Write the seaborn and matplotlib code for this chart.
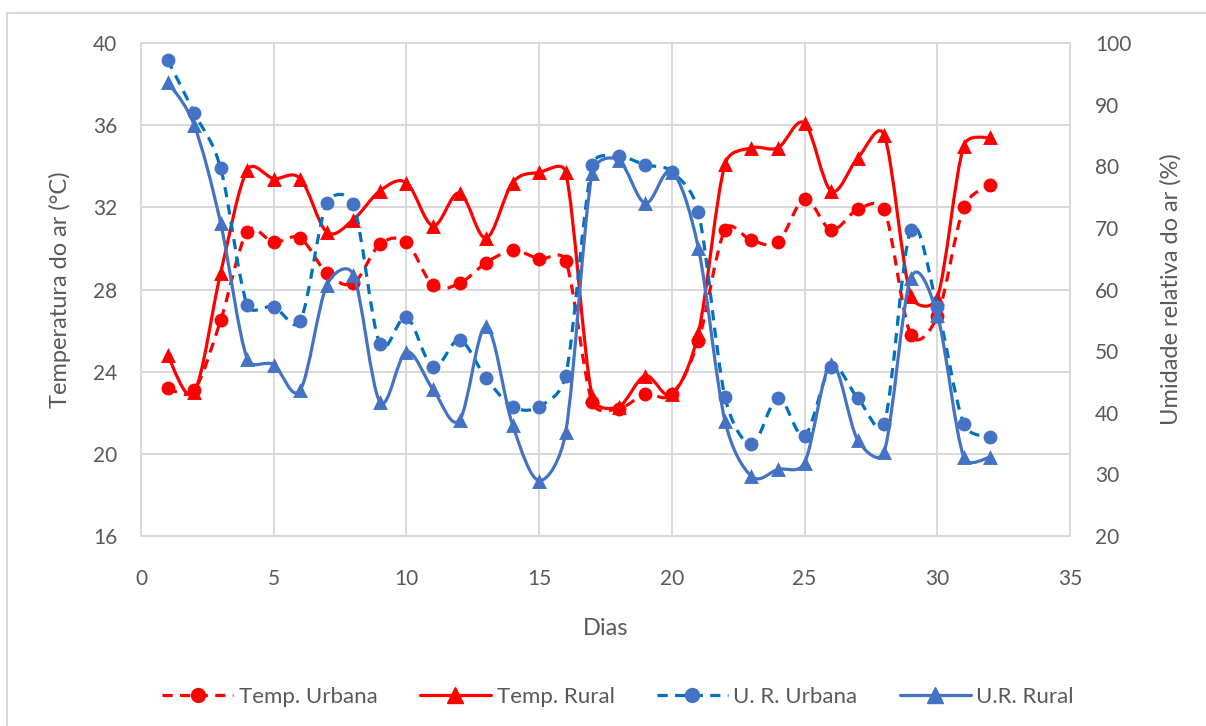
import numpy as np
import matplotlib
matplotlib.use("Agg")
import matplotlib.pyplot as plt
from matplotlib.path import Path
from matplotlib.patches import PathPatch
from matplotlib.lines import Line2D
import seaborn as sns

# Daily series
dias = list(range(1, 33))
temp_urbana = [23.2, 23.1, 26.5, 30.8, 30.3, 30.5, 28.8, 28.3, 30.2, 30.3, 28.2, 28.3,
               29.3, 29.9, 29.5, 29.4, 22.5, 22.2, 22.9, 22.9, 25.5, 30.9, 30.4, 30.3,
               32.4, 30.9, 31.9, 31.9, 25.8, 26.7, 32.0, 33.1]
temp_rural = [24.8, 23.0, 28.8, 33.8, 33.4, 33.4, 30.8, 31.4, 32.8, 33.2, 31.1, 32.7,
              30.5, 33.2, 33.7, 33.7, 22.8, 22.3, 23.8, 22.9, 25.9, 34.1, 34.9, 34.9,
              36.1, 32.8, 34.4, 35.5, 27.7, 27.6, 35.0, 35.4]
ur_urbana = [97.3, 88.7, 79.7, 57.5, 57.2, 54.9, 74.0, 73.9, 51.2, 55.5, 47.4, 51.8,
             45.6, 41.0, 41.0, 46.0, 80.2, 81.6, 80.2, 79.1, 72.6, 42.6, 34.9, 42.4,
             36.3, 47.4, 42.4, 38.2, 69.6, 57.2, 38.2, 36.0]
ur_rural = [93.7, 86.7, 70.8, 48.8, 47.8, 43.7, 60.7, 62.4, 41.8, 49.9, 43.8, 38.8,
            54.0, 38.0, 29.0, 36.8, 78.9, 81.0, 74.0, 79.1, 66.7, 38.7, 29.7, 30.8,
            31.9, 47.9, 35.6, 33.7, 61.8, 55.9, 32.8, 32.8]

labels = ["Temp. Urbana", "Temp. Rural", "U. R. Urbana", "U.R. Rural"]
x_ticks = [0, 5, 10, 15, 20, 25, 30, 35]
t_ticks = [16, 20, 24, 28, 32, 36, 40]
u_ticks = [20, 30, 40, 50, 60, 70, 80, 90, 100]

RED = "#FF0000"
BLUE = "#4472C4"
BLUE_DASH = "#0070C0"
GRID = "#D9D9D9"
TXT = "#595959"

sns.set_theme(style="white")
plt.rcParams["font.family"] = ["Lato", "DejaVu Sans"]

FIG_W, FIG_H = 1206, 726
AX_L, AX_R, AX_T, AX_B = 141, 1070, 43, 536


def smooth_path(x, y, ylim, xlim=(0, 35), t=1 / 6):
    """Smoothed cubic Bezier path through the points.

    Control points follow the neighbouring chord (Catmull-Rom style), limited
    to half of the segment length in screen space to avoid overshooting.
    """
    sx = (AX_R - AX_L) / (xlim[1] - xlim[0])
    sy = (AX_B - AX_T) / (ylim[1] - ylim[0])
    pts = np.column_stack([np.asarray(x, float) * sx, np.asarray(y, float) * sy])
    n = len(pts)
    verts = [pts[0]]
    codes = [Path.MOVETO]
    for i in range(n - 1):
        p0 = pts[i - 1] if i > 0 else pts[i]
        p1, p2 = pts[i], pts[i + 1]
        p3 = pts[i + 2] if i + 2 < n else pts[i + 1]
        seg = np.hypot(*(p2 - p1))
        v1 = (p2 - p0) * t
        v2 = (p3 - p1) * t
        for v in (v1, v2):
            L = np.hypot(*v)
            if L > seg / 2 and L > 0:
                v *= (seg / 2) / L
        verts += [p1 + v1, p2 - v2, p2]
        codes += [Path.CURVE4] * 3
    verts = np.array(verts)
    verts[:, 0] /= sx
    verts[:, 1] /= sy
    return Path(verts, codes)


DASH = (0, (3.2, 2.3))
LW = 2.3

fig = plt.figure(figsize=(FIG_W / 100, FIG_H / 100), dpi=100)
ax = fig.add_axes([AX_L / FIG_W, 1 - AX_B / FIG_H, (AX_R - AX_L) / FIG_W,
                   (AX_B - AX_T) / FIG_H])
ax2 = ax.twinx()

T_LIM = (16, 40)
U_LIM = (20, 100)

# Temperature on the primary axis
ax.add_patch(PathPatch(smooth_path(dias, temp_urbana, T_LIM), fill=False, edgecolor=RED,
                       lw=LW, linestyle=DASH, zorder=3))
sns.scatterplot(x=dias, y=temp_urbana, ax=ax, marker="o", s=100, color=RED,
                edgecolor=RED, linewidth=0, zorder=4, legend=False)
ax.add_patch(PathPatch(smooth_path(dias, temp_rural, T_LIM), fill=False, edgecolor=RED,
                       lw=LW, zorder=3))
sns.scatterplot(x=dias, y=temp_rural, ax=ax, marker="^", s=115, color=RED,
                edgecolor=RED, linewidth=0, zorder=4, legend=False)

# Relative humidity on the secondary axis
ax2.add_patch(PathPatch(smooth_path(dias, ur_urbana, U_LIM), fill=False,
                        edgecolor=BLUE_DASH, lw=LW, linestyle=DASH, zorder=3))
sns.scatterplot(x=dias, y=ur_urbana, ax=ax2, marker="o", s=100, color=BLUE,
                edgecolor=BLUE, linewidth=0, zorder=4, legend=False)
ax2.add_patch(PathPatch(smooth_path(dias, ur_rural, U_LIM), fill=False, edgecolor=BLUE,
                        lw=LW, zorder=3))
sns.scatterplot(x=dias, y=ur_rural, ax=ax2, marker="^", s=115, color=BLUE,
                edgecolor=BLUE, linewidth=0, zorder=4, legend=False)

ax.set_xlim(0, 35)
ax.set_ylim(*T_LIM)
ax2.set_ylim(*U_LIM)
ax.set_xticks(x_ticks)
ax.set_yticks(t_ticks)
ax2.set_yticks(u_ticks)

ax.grid(True, color=GRID, lw=1.4, zorder=0)
ax.set_axisbelow(True)
ax2.grid(False)
for a in (ax, ax2):
    for s in a.spines.values():
        s.set_color(GRID)
        s.set_linewidth(1.4)
    a.tick_params(length=0, labelsize=15, labelcolor=TXT)
ax.tick_params(axis="y", pad=17)
ax.tick_params(axis="x", pad=24)
ax2.tick_params(axis="y", pad=18)

ax.set_xlabel("Dias", fontsize=17, color=TXT)
ax.set_ylabel("Temperatura do ar (°C)", fontsize=17, color=TXT)
ax2.set_ylabel("Umidade relativa do ar (%)", fontsize=17, color=TXT)
ax.xaxis.set_label_coords(0.5, -0.167)
ax.yaxis.set_label_coords(-0.075, 0.5)
ax2.yaxis.set_label_coords(1.097, 0.5)

handles = [
    Line2D([], [], color=RED, lw=LW, linestyle=DASH, marker="o", markersize=10),
    Line2D([], [], color=RED, lw=LW, marker="^", markersize=11),
    Line2D([], [], color=BLUE_DASH, lw=LW, linestyle=DASH, marker="o", markersize=10,
           markerfacecolor=BLUE, markeredgecolor=BLUE),
    Line2D([], [], color=BLUE, lw=LW, marker="^", markersize=11),
]
fig.legend(handles, labels, loc="center", bbox_to_anchor=(618 / FIG_W, 1 - 697 / FIG_H),
           ncol=4, frameon=False, fontsize=16, labelcolor=TXT, handlelength=3.2,
           handletextpad=0.25, columnspacing=1.9)

# Outer chart frame
fig.add_artist(Line2D([7 / FIG_W, 7 / FIG_W], [0, 1 - 13 / FIG_H], color=GRID, lw=1.5,
                      transform=fig.transFigure))
fig.add_artist(Line2D([7 / FIG_W, 1], [1 - 13 / FIG_H, 1 - 13 / FIG_H], color=GRID,
                      lw=1.5, transform=fig.transFigure))

fig.savefig("out.png", dpi=100)
